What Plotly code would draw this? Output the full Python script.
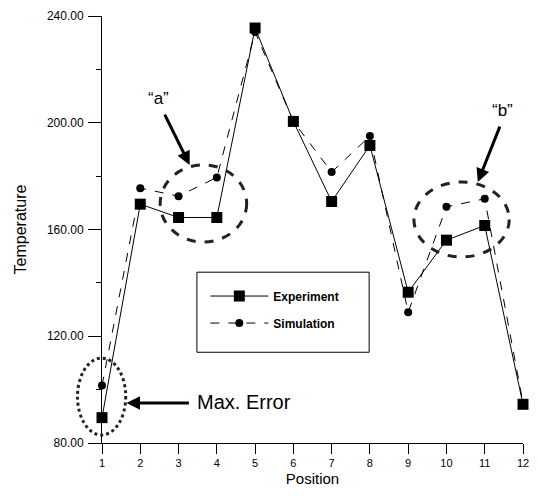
import plotly.graph_objects as go

positions = [1, 2, 3, 4, 5, 6, 7, 8, 9, 10, 11, 12]
experiment = [89.5, 169.5, 164.5, 164.5, 235.5, 200.5, 170.5, 191.5, 136.5, 156.0, 161.5, 94.5]
simulation = [101.5, 175.5, 172.5, 179.5, 234.0, 200.5, 181.5, 195.0, 129.0, 168.5, 171.5, 95.0]
y_ticks = [80, 120, 160, 200, 240]

X_RANGE = [1, 12]
Y_RANGE = [80, 240]


def px_(xd):
    return (xd - X_RANGE[0]) / (X_RANGE[1] - X_RANGE[0])


def py_(yd):
    return (yd - Y_RANGE[0]) / (Y_RANGE[1] - Y_RANGE[0])


fig = go.Figure()
fig.add_trace(go.Scatter(
    x=positions, y=experiment, name="Experiment", mode="lines+markers",
    legendgroup="e",
    line=dict(color="black", width=1),
    marker=dict(symbol="square", size=11, color="black"),
    cliponaxis=False))
fig.add_trace(go.Scatter(
    x=positions, y=simulation, name="Simulation", mode="lines+markers",
    legendgroup="s",
    line=dict(color="black", width=1, dash="dash"),
    marker=dict(symbol="circle", size=8, color="black"),
    cliponaxis=False))

font = "Arial, Liberation Sans, sans-serif"

# ellipses (paper coordinates so they are not clipped)
for (x0, x1, y0, y1, dash) in [(2.52, 4.78, 155.3, 184.2, "dash"),
                               (9.15, 11.64, 149.7, 177.8, "dash"),
                               (0.36, 1.62, 83.0, 111.8, "dot")]:
    fig.add_shape(type="circle", xref="paper", yref="paper",
                  x0=px_(x0), x1=px_(x1), y0=py_(y0), y1=py_(y1),
                  line=dict(color="#222", width=3, dash=dash))

# legend frame
fig.add_shape(type="rect", xref="paper", yref="paper",
              x0=px_(3.48), x1=px_(7.98), y0=py_(114.0), y1=py_(144.0),
              line=dict(color="black", width=1))

# arrows
for (hx, hy, tx, ty) in [(3.29, 184.2, 2.62, 203.6), (10.82, 177.8, 11.41, 199.1), (1.64, 95.0, 3.31, 95.0)]:
    fig.add_annotation(x=hx, y=hy, ax=tx, ay=ty, xref="x", yref="y", axref="x", ayref="y",
                       text="", showarrow=True, arrowhead=2, arrowsize=0.9, arrowwidth=3,
                       arrowcolor="black")

fig.add_annotation(x=2.47, y=209, xref="x", yref="y", text="\u201ca\u201d", showarrow=False,
                   font=dict(family=font, size=17, color="black"))
fig.add_annotation(x=11.46, y=204.5, xref="x", yref="y", text="\u201cb\u201d", showarrow=False,
                   font=dict(family=font, size=17, color="black"))
fig.add_annotation(x=3.42, y=95.5, xref="x", yref="y", text="Max. Error", showarrow=False,
                   xanchor="left", font=dict(family=font, size=20, color="black"))

# the page adds an 8px body margin; keep the figure inside the window so nothing overflows
fig.update_layout(
    width=522, height=480,
    margin=dict(l=94, r=7, t=8, b=45),
    paper_bgcolor="white", plot_bgcolor="white",
    font=dict(family=font, color="black"),
    showlegend=True,
    legend=dict(x=px_(3.7), y=py_(140.5), xanchor="left", yanchor="top",
                borderwidth=0, bgcolor="rgba(0,0,0,0)",
                font=dict(family=font, size=12, weight="bold"),
                itemwidth=58, tracegroupgap=8),
    xaxis=dict(range=X_RANGE, tickvals=positions, showline=True, linecolor="black",
               linewidth=1, ticks="outside", ticklen=10, tickcolor="black",
               showgrid=False, zeroline=False, tickfont=dict(size=11),
               ticklabelstandoff=0, ticklabeloverflow="allow", automargin=False,
               title=dict(text="Position", font=dict(size=15), standoff=5)),
    yaxis=dict(range=Y_RANGE, tickvals=y_ticks, tickformat=".2f", showline=True,
               linecolor="black", linewidth=1, ticks="outside", ticklen=13,
               tickcolor="black", showgrid=False, zeroline=False, tickfont=dict(size=12),
               ticklabelstandoff=2, automargin=False,
               minor=dict(dtick=20, ticks="outside", ticklen=5, tickcolor="black"),
               title=dict(text="Temperature", font=dict(size=16), standoff=16)),
)

fig.write_html("out.html")
